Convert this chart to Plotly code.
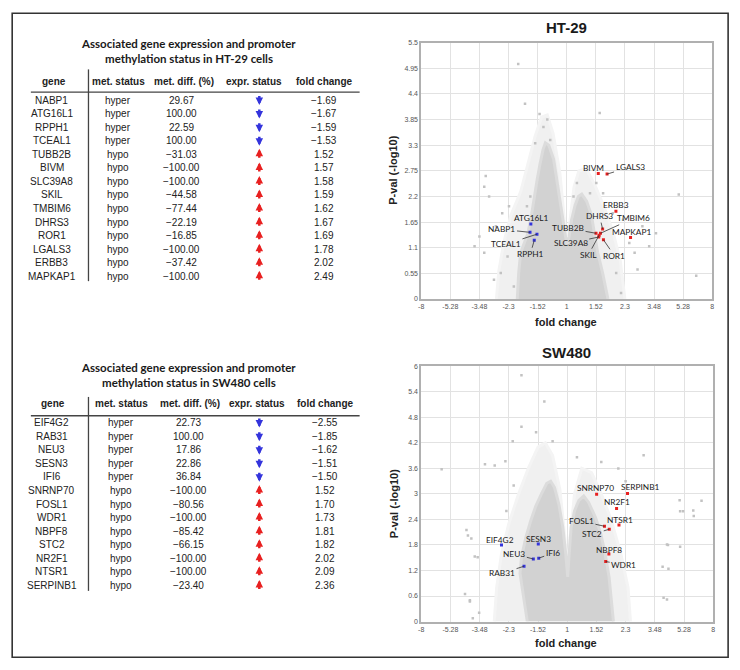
import numpy as np
import plotly.graph_objects as go

W, H = 740, 670

# ---------------- DATA ----------------
ht29_genes = ["NABP1", "ATG16L1", "RPPH1", "TCEAL1", "TUBB2B", "BIVM", "SLC39A8",
              "SKIL", "TMBIM6", "DHRS3", "ROR1", "LGALS3", "ERBB3", "MAPKAP1"]
ht29_met_status = ["hyper"] * 4 + ["hypo"] * 10
ht29_met_diff = [29.67, 100.00, 22.59, 100.00, -31.03, -100.00, -100.00,
                 -44.58, -77.44, -22.19, -16.85, -100.00, -37.42, -100.00]
ht29_fold_change = [-1.69, -1.67, -1.59, -1.53, 1.52, 1.57, 1.58,
                    1.59, 1.62, 1.67, 1.69, 1.78, 2.02, 2.49]
ht29_pval = [1.43, 1.61, 1.26, 1.39, 1.41, 2.69, 1.33,
             1.37, 1.41, 1.50, 1.27, 2.68, 1.88, 1.32]

sw480_genes = ["EIF4G2", "RAB31", "NEU3", "SESN3", "IFI6", "SNRNP70", "FOSL1",
               "WDR1", "NBPF8", "STC2", "NR2F1", "NTSR1", "SERPINB1"]
sw480_met_status = ["hyper"] * 5 + ["hypo"] * 8
sw480_met_diff = [22.73, 100.00, 17.86, 22.86, 36.84, -100.00, -80.56,
                  -100.00, -85.42, -66.15, -100.00, -100.00, -23.40]
sw480_fold_change = [-2.55, -1.85, -1.62, -1.51, -1.50, 1.52, 1.70,
                     1.73, 1.81, 1.82, 2.02, 2.09, 2.36]
sw480_pval = [1.80, 1.30, 1.47, 1.82, 1.49, 2.99, 2.24,
              1.41, 1.59, 2.17, 2.66, 2.27, 3.01]

# x axis: log2 fold change, labelled in fold change
x_tickvals = [-3, -2.4, -1.8, -1.2, -0.6, 0, 0.6, 1.2, 1.8, 2.4, 3]
x_ticktext = ["-8", "-5.28", "-3.48", "-2.3", "-1.52", "1", "1.52", "2.3", "3.48", "5.28", "8"]
ht29_y_tickvals = [0, 0.55, 1.1, 1.65, 2.2, 2.75, 3.3, 3.85, 4.4, 4.95, 5.5]
ht29_y_ticktext = ["0", "0.55", "1.1", "1.65", "2.2", "2.75", "3.3", "3.85", "4.4", "4.95", "5.5"]
sw480_y_tickvals = [0, 0.6, 1.2, 1.8, 2.4, 3.0, 3.6, 4.2, 4.8, 5.4, 6.0]
sw480_y_ticktext = ["0", "0.6", "1.2", "1.8", "2.4", "3", "3.6", "4.2", "4.8", "5.4", "6"]

# dense background cloud outline (log2 FC, -log10 p)
ht29_cloud_x = [-1.02, -0.99, -0.95, -0.80, -0.72, -0.67, -0.61, -0.55, -0.49, -0.44,
                -0.37, -0.27, -0.20, -0.13, -0.07, -0.014, 0.01, 0.05, 0.10, 0.17,
                0.24, 0.31, 0.41, 0.51, 0.57, 0.64, 0.74, 0.85]
ht29_cloud_y = [0.0, 0.56, 0.99, 1.41, 1.84, 2.20, 2.56, 2.90, 3.20, 3.35,
                3.30, 3.00, 2.50, 1.99, 1.56, 1.27, 1.16, 1.34, 1.70, 2.00,
                2.20, 2.25, 2.10, 1.80, 1.41, 0.99, 0.56, 0.0]
# sparse halo around the dense cloud
ht29_halo_x = [-1.45, -1.40, -1.30, -1.15, -0.95, -0.80, -0.65, -0.52, -0.40, -0.28,
               -0.14, -0.05, 0.01, 0.07, 0.15, 0.25, 0.40, 0.58, 0.78, 0.95, 1.10, 1.20]
ht29_halo_y = [0.0, 0.6, 1.2, 1.8, 2.3, 2.9, 3.5, 3.9, 3.95, 3.55,
               2.7, 1.7, 1.2, 1.7, 2.4, 2.75, 2.8, 2.45, 1.95, 1.45, 0.85, 0.0]

sw480_cloud_x = [-0.82, -0.90, -0.97, -0.94, -0.85, -0.75, -0.65, -0.53, -0.42, -0.34,
                 -0.26, -0.17, -0.09, -0.03, 0.01, 0.04, 0.08, 0.15, 0.24, 0.34,
                 0.44, 0.58, 0.69, 0.78, 0.86, 0.95]
sw480_cloud_y = [0.0, 0.66, 1.13, 1.51, 1.98, 2.37, 2.70, 3.00, 3.25, 3.30,
                 3.15, 2.75, 2.21, 1.59, 1.05, 1.59, 2.21, 2.60, 2.85, 2.95,
                 2.80, 2.45, 2.06, 1.59, 1.05, 0.0]
sw480_halo_x = [-1.50, -1.45, -1.35, -1.20, -1.00, -0.80, -0.60, -0.45, -0.30, -0.15,
                -0.05, 0.01, 0.06, 0.15, 0.30, 0.50, 0.70, 0.90, 1.10, 1.25, 1.30]
sw480_halo_y = [0.0, 0.8, 1.6, 2.3, 3.0, 3.6, 4.1, 4.2, 3.9, 3.1,
                2.0, 1.1, 2.0, 3.0, 3.6, 3.5, 3.0, 2.4, 1.6, 0.8, 0.0]

# scattered outlier genes (log2 FC, -log10 p)
ht29_bg_x = [-1.00, -0.86, -0.56, 0.68, -0.48, -1.67, -1.70, 2.31, 2.67, -1.80,
             -1.70, -1.33, -1.46, -1.19, 1.56, 1.70, 1.40, 1.46, -1.36, -1.22,
             0.21, 0.14, 0.48, -0.75, -0.82, 0.95, 1.16, 1.29, 1.02, 1.12,
             -1.09, -1.50, -0.34, -0.65, -1.60, -1.90, 1.84, 0.75, 0.61, -0.40]
ht29_bg_y = [5.04, 4.19, 3.97, 3.99, 3.69, 2.64, 2.41, 2.24, 0.50, 1.34,
             0.99, 1.84, 1.56, 1.99, 1.56, 1.13, 0.99, 0.63, 0.56, 0.91,
             2.49, 2.20, 2.27, 2.20, 1.99, 1.84, 1.70, 1.20, 0.56, 0.13,
             0.27, 0.41, 3.41, 3.34, 2.20, 1.13, 1.41, 2.27, 2.49, 3.85]
sw480_bg_x = [-0.94, -0.47, -0.94, -1.12, -0.64, -0.30, 1.57, 0.20, -2.58, -1.69,
              -1.49, -1.27, 2.76, 2.59, 2.32, -1.97, -2.07, -1.90, -2.10, -2.00,
              -1.81, 2.32, 2.05, 1.96, 1.98, 2.31, 2.38, 2.60, 2.07, 2.08,
              2.05, -2.00, -1.94, -2.04, -1.84, -1.25, 1.20, 1.05, -1.10, 0.70]
sw480_bg_y = [5.79, 5.17, 4.58, 4.24, 4.45, 4.24, 3.91, 3.86, 3.58, 3.70,
              3.67, 3.77, 2.84, 2.61, 2.59, 1.95, 2.15, 1.53, 0.65, 0.47,
              0.21, 1.76, 1.81, 1.29, 0.56, 2.85, 2.59, 2.48, 1.80, 1.24,
              0.52, 0.50, 0.08, 2.02, 1.51, 2.60, 3.30, 3.60, 3.20, 3.75]

# ---------------- STYLE / LAYOUT HELPERS ----------------
OFF = 8  # page body margin offset in the browser


def px(x):
    return (x - OFF) / W


def py(y):
    return 1 - (y - OFF) / H


CORE_GRAY = "#d2d2d2"
HALO_GRAY = "#f0f0f0"
BLUE = "#3434dc"
RED = "#e82020"
TXT = "#1a1a1a"

ht29_label_pos = {  # dx, dy (px), leader line
    "NABP1": (-28, -3, True), "ATG16L1": (1, -6, False), "RPPH1": (-4, 14, True),
    "TCEAL1": (-31, 10, True), "TUBB2B": (-28, -5, True), "BIVM": (-5, -6, False),
    "SLC39A8": (-28, 6, True), "SKIL": (-11, 20, True), "TMBIM6": (33, -15, True),
    "DHRS3": (-3, -13, True), "ROR1": (11, 16, True), "LGALS3": (23, -7, True),
    "ERBB3": (0, -6, False), "MAPKAP1": (1, -5, False),
}
sw480_label_pos = {
    "EIF4G2": (-1, -5, False), "RAB31": (-22, 7, True), "NEU3": (-19, -5, True),
    "SESN3": (0, -5, False), "IFI6": (14, -5, True), "SNRNP70": (-1, -6, False),
    "FOSL1": (-23, -5, True), "WDR1": (18, 3, True), "NBPF8": (0, -4, False),
    "STC2": (-17, 5, True), "NR2F1": (0, -6, False), "NTSR1": (1, -5, False),
    "SERPINB1": (12, -6, False),
}

fig = go.Figure()
annotations = []
shapes = []


def paper_text(x, y, text, size, family="Liberation Sans", color=TXT, angle=0):
    annotations.append(dict(x=px(x), y=py(y), xref="paper", yref="paper", text=text,
                            showarrow=False, xanchor="center", yanchor="middle", textangle=angle,
                            font=dict(family=family, size=size, color=color)))


def fmt(v):
    return f"{v:.2f}".replace("-", "\u2212")


def add_table(title1, title2, genes, status, diff, fc, t1y, hdr_y, line_y, vline, row0, hdr_x, dat_x):
    step = 13.7
    paper_text(187, t1y, f"<b>{title1}</b>", 11.5, family="Lato")
    paper_text(187, t1y + 15, f"<b>{title2}</b>", 11.5, family="Lato")
    headers = ["gene", "met. status", "met. diff. (%)", "expr. status", "fold change"]
    for h, x in zip(headers, hdr_x):
        paper_text(x, hdr_y, f"<b>{h}</b>", 10, color="#222")
    shapes.append(dict(type="line", xref="paper", yref="paper", x0=px(28), x1=px(359),
                       y0=py(line_y), y1=py(line_y), line=dict(color="#444", width=1.3)))
    shapes.append(dict(type="line", xref="paper", yref="paper", x0=px(86), x1=px(86),
                       y0=py(vline[0]), y1=py(vline[1]), line=dict(color="#444", width=1.3)))
    for i, g in enumerate(genes):
        yy = row0 + i * step
        up = fc[i] > 0
        cells = [g, status[i], fmt(diff[i]), None, fmt(fc[i])]
        for j, c in enumerate(cells):
            if c is None:
                head_y = yy - 5.5 if up else yy + 5
                annotations.append(dict(x=px(dat_x[j]), y=py(head_y), xref="paper", yref="paper",
                                        text="", showarrow=True, arrowhead=2, arrowsize=0.6,
                                        arrowwidth=2.5, arrowcolor=RED if up else BLUE,
                                        ax=0, ay=10.5 if up else -10.5, standoff=0, startstandoff=0))
            else:
                paper_text(dat_x[j], yy, c, 10, color="#222")


add_table("Associated gene expression and promoter", "methylation status in HT-29 cells",
          ht29_genes, ht29_met_status, ht29_met_diff, ht29_fold_change,
          40, 78, 89, (66, 280), 97, [51, 116, 182, 253, 324], [49, 116, 180, 258, 323])
add_table("Associated gene expression and promoter", "methylation status in SW480 cells",
          sw480_genes, sw480_met_status, sw480_met_diff, sw480_fold_change,
          367, 404, 416, (397, 593), 423, [50, 119, 188, 256, 325], [49, 119, 187, 258, 324])


def add_volcano(xa, ya, halo_x, halo_y, cloud_x, cloud_y, bg_x, bg_y, genes, fc, pv, label_pos):
    fig.add_trace(go.Scatter(x=halo_x, y=halo_y, xaxis=xa, yaxis=ya, mode="lines", fill="toself",
                             fillcolor=HALO_GRAY, line=dict(color="#f4f4f4", width=3),
                             hoverinfo="skip", showlegend=False))
    fig.add_trace(go.Scatter(x=cloud_x, y=cloud_y, xaxis=xa, yaxis=ya, mode="lines", fill="toself",
                             fillcolor=CORE_GRAY, line=dict(color="#dcdcdc", width=3),
                             hoverinfo="skip", showlegend=False))
    fig.add_trace(go.Scatter(x=bg_x, y=bg_y, xaxis=xa, yaxis=ya, mode="markers",
                             marker=dict(color="#c2c2c2", size=2.5, symbol="square"),
                             hoverinfo="skip", showlegend=False))
    lx = np.sign(fc) * np.log2(np.abs(fc))
    cols = [RED if f > 0 else BLUE for f in fc]
    fig.add_trace(go.Scatter(x=lx, y=pv, xaxis=xa, yaxis=ya, mode="markers",
                             marker=dict(color=cols, size=3, symbol="square"),
                             hoverinfo="skip", showlegend=False))
    for g, x, y in zip(genes, lx, pv):
        dx, dy, line = label_pos[g]
        if line:
            annotations.append(dict(x=x, y=y, xref=xa, yref=ya, text=g, showarrow=True,
                                    arrowhead=0, arrowwidth=0.8, arrowcolor="#333", ax=dx, ay=dy,
                                    font=dict(family="Lato", size=8.3, color=TXT)))
        else:
            annotations.append(dict(x=x, y=y, xref=xa, yref=ya, text=g, showarrow=False,
                                    xshift=dx, yshift=-dy,
                                    font=dict(family="Lato", size=8.3, color=TXT)))


add_volcano("x", "y", ht29_halo_x, ht29_halo_y, ht29_cloud_x, ht29_cloud_y, ht29_bg_x, ht29_bg_y,
            ht29_genes, ht29_fold_change, ht29_pval, ht29_label_pos)
add_volcano("x2", "y2", sw480_halo_x, sw480_halo_y, sw480_cloud_x, sw480_cloud_y, sw480_bg_x, sw480_bg_y,
            sw480_genes, sw480_fold_change, sw480_pval, sw480_label_pos)

# plot titles and axis titles
paper_text(567, 24, "<b>HT-29</b>", 15)
paper_text(567, 352, "<b>SW480</b>", 15)
paper_text(567, 321, "<b>fold change</b>", 11, color="#222")
paper_text(567, 646, "<b>fold change</b>", 11, color="#222")
paper_text(393, 168, "<b>P-val (-log10)</b>", 11, color="#222", angle=-90)
paper_text(393, 505, "<b>P-val (-log10)</b>", 11, color="#222", angle=-90)

# outer frame
shapes.append(dict(type="rect", xref="paper", yref="paper", x0=1.2 / W, x1=px(730), y0=1 - 1.2 / H, y1=py(660),
                   line=dict(color="#333", width=1.6)))

axis_common = dict(showgrid=True, gridcolor="#e2e2e2", gridwidth=1, zeroline=False,
                   showline=True, mirror=True, linecolor="#b0b0b0", linewidth=1.6,
                   ticks="", tickfont=dict(family="Liberation Sans", size=7, color="#555"))

fig.update_layout(
    width=W, height=H, margin=dict(l=0, r=0, t=0, b=0),
    paper_bgcolor="white", plot_bgcolor="white", showlegend=False,
    xaxis=dict(domain=[px(421), px(714)], range=[-3, 3], tickvals=x_tickvals, ticktext=x_ticktext,
               anchor="y", **axis_common),
    yaxis=dict(domain=[py(298), py(39)], range=[0, 5.5], tickvals=ht29_y_tickvals, ticktext=ht29_y_ticktext,
               anchor="x", **axis_common),
    xaxis2=dict(domain=[px(421), px(715)], range=[-3, 3], tickvals=x_tickvals, ticktext=x_ticktext,
                anchor="y2", **axis_common),
    yaxis2=dict(domain=[py(624), py(366)], range=[0, 6], tickvals=sw480_y_tickvals, ticktext=sw480_y_ticktext,
                anchor="x2", **axis_common),
    annotations=annotations, shapes=shapes,
)

fig.write_html("out.html")
